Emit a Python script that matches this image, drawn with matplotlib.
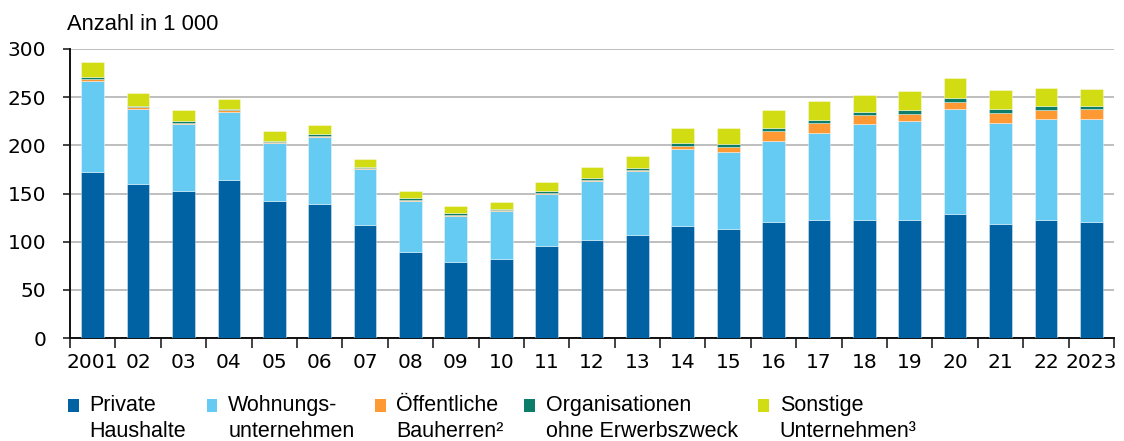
import matplotlib
matplotlib.use("Agg")
import matplotlib.pyplot as plt
import numpy as np
from matplotlib.patches import Rectangle
from matplotlib.legend_handler import HandlerPatch

plt.rcParams['font.family'] = ['Liberation Sans', 'DejaVu Sans']

years = ['2001', '02', '03', '04', '05', '06', '07', '08', '09', '10', '11', '12',
         '13', '14', '15', '16', '17', '18', '19', '20', '21', '22', '2023']
private = [172, 160, 153, 164, 142, 139, 117, 89.5, 79, 82, 95, 102,
           107, 116.5, 113.5, 120.5, 122, 122.5, 123, 129, 118.5, 123, 120]
wohnung = [95, 78, 69.5, 71, 60, 69.5, 58, 53, 48, 50, 55, 61,
           66, 80, 79.5, 84.5, 91, 100, 102, 109, 105, 104.5, 107]
oeffentl = [1.5, 1.5, 1, 1.5, 1, 1.5, 1, 1, 1, 0.7, 1, 1.5,
            1.5, 3, 5, 10, 10, 8.5, 8, 7, 10.5, 9.5, 11]
organis = [2.5, 1.5, 1.5, 1.5, 2, 1.5, 1, 1.5, 1.5, 1.3, 1.5, 2,
           1.5, 3, 3, 3, 3, 3.5, 3.5, 4, 3.5, 4, 3]
sonstige = [15.5, 13, 11.5, 10, 10, 9.5, 9, 8, 7.5, 7, 9.5, 10.5,
            13, 15, 16.5, 18.5, 20, 17.5, 19.5, 20.5, 19.5, 18.5, 17]

series = [private, wohnung, oeffentl, organis, sonstige]
labels = ['Private\nHaushalte', 'Wohnungs-\nunternehmen', 'Öffentliche\nBauherren²',
          'Organisationen\nohne Erwerbszweck', 'Sonstige\nUnternehmen³']
colors = ['#0062A3', '#66CBF3', '#FF9933', '#0B7D68', '#D2DC13']

FS = 15.5      # legend / unit label
TICK_FS = 14.5

fig = plt.figure(figsize=(11.24, 4.41), dpi=100)
ax = fig.add_axes([70 / 1124, 1 - 338 / 441, 1044 / 1124, 289 / 441])

x = np.arange(len(years))
bottom = np.zeros(len(years))
handles = []
for vals, col, lab in zip(series, colors, labels):
    b = ax.bar(x, vals, width=0.5, bottom=bottom, color=col,
               edgecolor=(1, 1, 1, 0.45), linewidth=0.6, label=lab, zorder=3)
    handles.append(b[0])
    bottom += np.array(vals)

ax.set_xlim(-0.5, len(years) - 0.5)
ax.set_ylim(0, 300)
ax.set_yticks(np.arange(0, 301, 50))
ax.yaxis.grid(True, color='#BEBEBE', linewidth=1.4, zorder=0)
ax.set_axisbelow(True)

ax.set_xticks(np.arange(-0.5, len(years)), labels=[])
ax.set_xticks(x, labels=years, minor=True)
ax.tick_params(axis='x', which='major', length=7, width=1.2, color='#222222')
ax.tick_params(axis='x', which='minor', length=0, pad=11, labelsize=TICK_FS)
ax.tick_params(axis='y', length=5, width=1.2, pad=12, labelsize=TICK_FS, color='#222222')
for lbl in ax.get_xticklabels(minor=True) + ax.get_yticklabels():
    lbl.set_family('DejaVu Sans')

for s in ['top', 'right']:
    ax.spines[s].set_visible(False)
for s in ['left', 'bottom']:
    ax.spines[s].set_linewidth(1.4)
    ax.spines[s].set_color('#111111')

fig.text(67 / 1124, 1 - 30 / 441, 'Anzahl in 1 000', fontsize=15.8, va='baseline', ha='left')


class TopSquare(HandlerPatch):
    def create_artists(self, legend, orig_handle, xdescent, ydescent, width, height, fontsize, trans):
        p = Rectangle((-xdescent, -ydescent + 0.62 * fontsize), width, height,
                      facecolor=orig_handle.get_facecolor(), edgecolor='none', transform=trans)
        return [p]


leg = fig.legend(handles, labels, loc='upper left', bbox_to_anchor=(68 / 1124, 1 - 395 / 441),
                 ncol=5, frameon=False, fontsize=FS, handlelength=0.5, handleheight=0.5,
                 handletextpad=0.5, columnspacing=0.95, borderpad=0, borderaxespad=0,
                 handler_map={Rectangle: TopSquare()})
for t in leg.get_texts():
    t.set_linespacing(1.3)

fig.savefig('out.png', dpi=100)
